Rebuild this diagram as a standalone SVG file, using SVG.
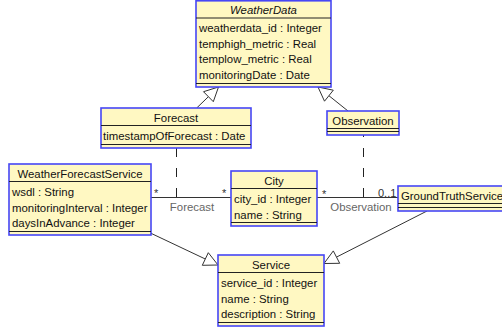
<svg xmlns="http://www.w3.org/2000/svg" width="502" height="332" viewBox="0 0 502 332">
<style>
.box{fill:#FFF8C2;stroke:#4646F6;stroke-width:1.6}
.div{stroke:#222;stroke-width:1}
.t{font-family:"Liberation Sans",Arial,sans-serif;font-size:11.4px;fill:#111}
.c{text-anchor:middle}
.it{font-style:italic}
.ln{stroke:#333;stroke-width:1;fill:none}
.dash{stroke:#222;stroke-width:1;fill:none;stroke-dasharray:9,11}
.tri{fill:#fff;stroke:#333;stroke-width:1}
.lbl{font-family:"Liberation Sans",Arial,sans-serif;font-size:11.4px;fill:#666}
.m{font-family:"Liberation Sans",Arial,sans-serif;font-size:11px;fill:#333}
</style>
<rect width="502" height="332" fill="#fff"/>
<g id="connectors">
<path class="ln" d="M151,233.3 L205.3,259"/>
<polygon class="tri" points="218,265 202.3,265.3 208.3,252.7"/>
<path class="ln" d="M427,211 L336.5,257.1"/>
<polygon class="tri" points="324,263.5 339.7,263.3 333.3,250.9"/>
<path class="ln" d="M196.7,108 L208.4,96.7"/>
<polygon class="tri" points="218.5,87 213.3,101.7 203.5,91.7"/>
<path class="ln" d="M348,111 L328.9,95.7"/>
<polygon class="tri" points="318,87 333.3,90.2 324.5,101.2"/>
<path class="ln" d="M151,197.5 L231,197.5"/>
<path class="ln" d="M317,197.5 L398,197.5"/>
<path class="dash" d="M176.5,197 L176.5,148"/>
<path class="dash" d="M363.5,197 L363.5,135"/>
<text class="m" x="154" y="197">*</text>
<text class="m" x="222" y="197">*</text>
<text class="m" x="322" y="198">*</text>
<text class="m" x="378" y="197">0..1</text>
<text class="lbl c" x="192" y="211">Forecast</text>
<text class="lbl c" x="361" y="211">Observation</text>
</g>
<g id="WeatherData">
<rect class="box" x="196" y="0.8" width="135" height="86.2"/>
<line class="div" x1="196" y1="18" x2="331" y2="18"/>
<line class="div" x1="196" y1="83.5" x2="331" y2="83.5"/>
<text class="t c it" x="263.5" y="14">WeatherData</text>
<text class="t" x="199" y="32">weatherdata_id : Integer</text>
<text class="t" x="199" y="47.5">temphigh_metric : Real</text>
<text class="t" x="199" y="63">templow_metric : Real</text>
<text class="t" x="199" y="78.5">monitoringDate : Date</text>
</g>
<g id="Forecast">
<rect class="box" x="101" y="108" width="150" height="40"/>
<line class="div" x1="101" y1="125.5" x2="251" y2="125.5"/>
<line class="div" x1="101" y1="144.5" x2="251" y2="144.5"/>
<text class="t c" x="176" y="122">Forecast</text>
<text class="t" x="103" y="140">timestampOfForecast : Date</text>
</g>
<g id="Observation">
<rect class="box" x="327" y="111" width="72" height="24"/>
<line class="div" x1="327" y1="128.5" x2="399" y2="128.5"/>
<line class="div" x1="327" y1="131.5" x2="399" y2="131.5"/>
<text class="t c" x="363" y="125">Observation</text>
</g>
<g id="WeatherForecastService">
<rect class="box" x="9" y="164" width="142" height="71"/>
<line class="div" x1="9" y1="181.5" x2="151" y2="181.5"/>
<line class="div" x1="9" y1="231.5" x2="151" y2="231.5"/>
<text class="t c" x="80" y="178">WeatherForecastService</text>
<text class="t" x="12" y="196">wsdl : String</text>
<text class="t" x="12" y="211.5">monitoringInterval : Integer</text>
<text class="t" x="12" y="227">daysInAdvance : Integer</text>
</g>
<g id="City">
<rect class="box" x="231" y="171" width="86" height="55"/>
<line class="div" x1="231" y1="188.5" x2="317" y2="188.5"/>
<line class="div" x1="231" y1="222.5" x2="317" y2="222.5"/>
<text class="t c" x="274" y="185">City</text>
<text class="t" x="234" y="203">city_id : Integer</text>
<text class="t" x="234" y="218.5">name : String</text>
</g>
<g id="GroundTruthService">
<rect class="box" x="398" y="186" width="108" height="25"/>
<line class="div" x1="398" y1="203.5" x2="506" y2="203.5"/>
<line class="div" x1="398" y1="207.5" x2="506" y2="207.5"/>
<text class="t c" x="452" y="200">GroundTruthService</text>
</g>
<g id="Service">
<rect class="box" x="218" y="255" width="106" height="71"/>
<line class="div" x1="218" y1="272.5" x2="324" y2="272.5"/>
<line class="div" x1="218" y1="322.5" x2="324" y2="322.5"/>
<text class="t c" x="271" y="269">Service</text>
<text class="t" x="221" y="287">service_id : Integer</text>
<text class="t" x="221" y="302.5">name : String</text>
<text class="t" x="221" y="318">description : String</text>
</g>
</svg>
